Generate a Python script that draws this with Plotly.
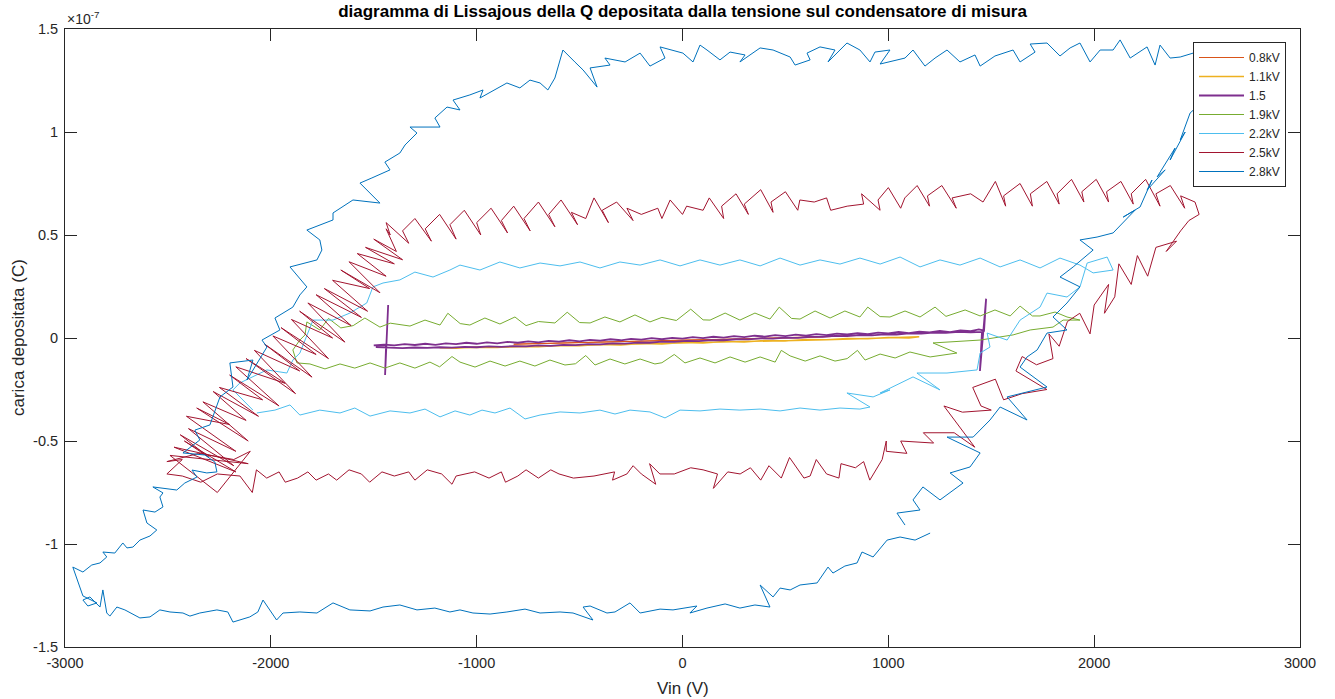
import plotly.graph_objects as go

# Lissajous loops: (Vin [V], deposited charge [1e-7 C]) for each applied voltage
Q_UNIT = 1e-7

loop_08kv = [(-820, -0.030), (-600, -0.024), (-400, -0.022), (-200, -0.015), (0, -0.010),
             (200, -0.006), (400, 0.000), (600, 0.004), (800, 0.010), (600, 0.002),
             (300, -0.004), (0, -0.012), (-400, -0.020), (-820, -0.030)]

loop_11kv = [(-1180, -0.047), (-1100, -0.050), (-1000, -0.044), (-900, -0.046), (-800, -0.040),
             (-700, -0.042), (-600, -0.036), (-500, -0.038), (-400, -0.032), (-300, -0.034),
             (-200, -0.027), (-100, -0.029), (0, -0.022), (100, -0.024), (200, -0.017),
             (300, -0.019), (400, -0.012), (500, -0.014), (600, -0.007), (700, -0.009),
             (800, -0.002), (900, -0.004), (1000, 0.003), (1100, 0.000), (1150, 0.006),
             (1050, 0.002), (900, -0.003), (700, -0.008), (500, -0.013), (300, -0.018),
             (100, -0.023), (-100, -0.028), (-300, -0.033), (-500, -0.037), (-700, -0.041),
             (-900, -0.045), (-1180, -0.049)]

loop_15kv = [(-1430, 0.16), (-1445, -0.18), (-1440, -0.034), (-1500, -0.036), (-1450, -0.032),
             (-1400, -0.036), (-1350, -0.030), (-1300, -0.034), (-1250, -0.028), (-1200, -0.033),
             (-1150, -0.026), (-1100, -0.030), (-1050, -0.023), (-1000, -0.028), (-950, -0.021),
             (-900, -0.026), (-850, -0.019), (-800, -0.023), (-750, -0.016), (-700, -0.021),
             (-650, -0.014), (-600, -0.018), (-550, -0.011), (-500, -0.016), (-450, -0.009),
             (-400, -0.013), (-350, -0.006), (-300, -0.011), (-250, -0.004), (-200, -0.008),
             (-150, -0.001), (-100, -0.006), (-50, 0.001), (0, -0.003), (50, 0.004),
             (100, -0.001), (150, 0.006), (200, 0.002), (250, 0.009), (300, 0.004),
             (350, 0.011), (400, 0.007), (450, 0.014), (500, 0.009), (550, 0.016),
             (600, 0.012), (650, 0.019), (700, 0.014), (750, 0.021), (800, 0.017),
             (850, 0.024), (900, 0.019), (950, 0.026), (1000, 0.022), (1050, 0.029),
             (1100, 0.024), (1150, 0.031), (1200, 0.027), (1250, 0.034), (1300, 0.029),
             (1350, 0.037), (1400, 0.033), (1440, 0.042), (1465, 0.036), (1475, 0.19),
             (1445, -0.16), (1455, 0.030), (1400, 0.028), (1340, 0.030), (1280, 0.025),
             (1220, 0.026), (1160, 0.021), (1100, 0.022), (1040, 0.017), (980, 0.018),
             (920, 0.013), (860, 0.014), (800, 0.009), (740, 0.010), (680, 0.005),
             (620, 0.006), (560, 0.001), (500, 0.002), (440, -0.003), (380, -0.002),
             (320, -0.007), (260, -0.006), (200, -0.011), (140, -0.010), (80, -0.015),
             (20, -0.014), (-40, -0.019), (-100, -0.018), (-160, -0.023), (-220, -0.022),
             (-280, -0.027), (-340, -0.026), (-400, -0.031), (-460, -0.030), (-520, -0.035),
             (-580, -0.033), (-640, -0.038), (-700, -0.036), (-760, -0.041), (-820, -0.039),
             (-880, -0.043), (-940, -0.041), (-1000, -0.045), (-1060, -0.043), (-1120, -0.047),
             (-1180, -0.045), (-1240, -0.048), (-1300, -0.046), (-1360, -0.049), (-1420, -0.046),
             (-1490, -0.044)]

loop_19kv = [(-1834, 0.015), (-1825, 0.078), (-1762, 0.039), (-1720, 0.095), (-1660, 0.049),
             (-1600, 0.060), (-1543, 0.097), (-1470, 0.053), (-1420, 0.072), (-1324, 0.058),
             (-1251, 0.087), (-1178, 0.063), (-1140, 0.120), (-1080, 0.070), (-1033, 0.063),
             (-960, 0.097), (-887, 0.068), (-814, 0.102), (-760, 0.060), (-700, 0.080),
             (-620, 0.073), (-560, 0.125), (-500, 0.075), (-449, 0.073), (-377, 0.102),
             (-304, 0.078), (-231, 0.112), (-158, 0.078), (-100, 0.100), (-30, 0.085),
             (40, 0.140), (100, 0.088), (134, 0.087), (207, 0.121), (279, 0.087),
             (352, 0.121), (425, 0.092), (470, 0.150), (530, 0.095), (571, 0.092),
             (644, 0.131), (717, 0.097), (789, 0.131), (862, 0.102), (900, 0.150),
             (960, 0.104), (1008, 0.102), (1081, 0.131), (1154, 0.102), (1227, 0.150),
             (1280, 0.105), (1373, 0.136), (1446, 0.107), (1518, 0.136), (1592, 0.107),
             (1640, 0.155), (1700, 0.107), (1737, 0.107), (1810, 0.126), (1868, 0.102),
             (1931, 0.087), (1849, 0.087), (1800, 0.053), (1689, 0.039), (1606, 0.015),
             (1446, -0.010), (1217, -0.024), (1333, -0.073), (1203, -0.092), (1105, -0.068),
             (1033, -0.097), (960, -0.078), (887, -0.107), (850, -0.060), (800, -0.100),
             (741, -0.112), (668, -0.087), (596, -0.112), (523, -0.087), (480, -0.060),
             (450, -0.117), (377, -0.092), (304, -0.117), (231, -0.092), (158, -0.121),
             (85, -0.097), (12, -0.121), (-40, -0.080), (-100, -0.120), (-134, -0.126),
             (-206, -0.102), (-280, -0.126), (-352, -0.102), (-425, -0.131), (-470, -0.085),
             (-520, -0.125), (-571, -0.131), (-644, -0.107), (-717, -0.136), (-790, -0.112),
             (-862, -0.136), (-935, -0.112), (-1008, -0.141), (-1081, -0.117), (-1120, -0.090),
             (-1180, -0.140), (-1227, -0.117), (-1300, -0.146), (-1373, -0.121), (-1446, -0.146),
             (-1518, -0.121), (-1592, -0.146), (-1664, -0.126), (-1737, -0.150), (-1810, -0.126),
             (-1873, -0.121), (-1893, -0.058), (-1859, -0.010), (-1834, 0.015)]

loop_22kv = [(-2068, -0.364), (-1980, -0.350), (-1907, -0.325), (-1859, -0.374), (-1762, -0.350),
             (-1664, -0.364), (-1592, -0.340), (-1518, -0.379), (-1421, -0.354), (-1324, -0.364),
             (-1251, -0.345), (-1178, -0.383), (-1105, -0.354), (-1033, -0.374), (-974, -0.350),
             (-911, -0.364), (-838, -0.340), (-765, -0.393), (-692, -0.374), (-595, -0.359),
             (-498, -0.364), (-401, -0.350), (-328, -0.369), (-255, -0.350), (-158, -0.359),
             (-85, -0.388), (-12, -0.350), (85, -0.354), (182, -0.345), (279, -0.350),
             (377, -0.345), (474, -0.354), (571, -0.340), (668, -0.350), (765, -0.340),
             (862, -0.345), (911, -0.335), (799, -0.267), (926, -0.286), (1008, -0.252),
             (960, -0.267), (1120, -0.189), (1251, -0.252), (1139, -0.170), (1285, -0.170),
             (1431, -0.155), (1446, -0.073), (1494, -0.044), (1480, 0.024), (1577, -0.010),
             (1640, 0.087), (1737, 0.150), (1771, 0.218), (1868, 0.199), (1931, 0.248),
             (1966, 0.364), (2063, 0.393), (2092, 0.330), (1995, 0.316), (1931, 0.354),
             (1834, 0.388), (1737, 0.340), (1640, 0.379), (1543, 0.345), (1446, 0.388),
             (1348, 0.354), (1251, 0.379), (1154, 0.345), (1057, 0.393), (960, 0.359),
             (862, 0.388), (765, 0.359), (668, 0.379), (571, 0.354), (474, 0.388),
             (377, 0.350), (279, 0.379), (182, 0.354), (85, 0.379), (-12, 0.350),
             (-109, 0.379), (-206, 0.354), (-304, 0.369), (-401, 0.340), (-498, 0.369),
             (-595, 0.350), (-692, 0.364), (-790, 0.340), (-887, 0.369), (-984, 0.330),
             (-1081, 0.354), (-1130, 0.330), (-1212, 0.296), (-1300, 0.320), (-1373, 0.282),
             (-1455, 0.267), (-1504, 0.248), (-1534, 0.170), (-1616, 0.121), (-1698, 0.087),
             (-1795, 0.087), (-1859, -0.073), (-1893, -0.107), (-1922, -0.170), (-2019, -0.155),
             (-2150, -0.218), (-2184, -0.252), (-2087, -0.350)]

loop_25kv = [(-1420, 0.50), (-1440, 0.56), (-1330, 0.46), (-1360, 0.52), (-1300, 0.58),
             (-1220, 0.47), (-1250, 0.53), (-1180, 0.60), (-1100, 0.48), (-1130, 0.55),
             (-1060, 0.62), (-980, 0.50), (-1000, 0.56), (-930, 0.63), (-850, 0.51),
             (-880, 0.57), (-820, 0.64), (-740, 0.52), (-770, 0.58), (-700, 0.66),
             (-620, 0.54), (-650, 0.60), (-590, 0.67), (-510, 0.55), (-540, 0.61),
             (-470, 0.58), (-430, 0.68), (-360, 0.56), (-390, 0.62), (-320, 0.66),
             (-240, 0.57), (-270, 0.63), (-200, 0.60), (-120, 0.63), (-100, 0.58),
             (-60, 0.67), (0, 0.60), (20, 0.64), (100, 0.62), (130, 0.68),
             (200, 0.58), (190, 0.64), (260, 0.70), (320, 0.60), (300, 0.65),
             (380, 0.72), (440, 0.61), (430, 0.66), (500, 0.71), (560, 0.62),
             (570, 0.67), (640, 0.66), (700, 0.68), (720, 0.62), (800, 0.64),
             (880, 0.65), (870, 0.70), (960, 0.62), (950, 0.67), (1000, 0.73),
             (1060, 0.63), (1080, 0.68), (1140, 0.74), (1200, 0.64), (1190, 0.69),
             (1260, 0.74), (1330, 0.63), (1310, 0.68), (1400, 0.70), (1460, 0.66),
             (1520, 0.76), (1570, 0.64), (1560, 0.69), (1640, 0.75), (1700, 0.64),
             (1690, 0.70), (1770, 0.76), (1830, 0.65), (1820, 0.70), (1890, 0.77),
             (1950, 0.66), (1940, 0.71), (2010, 0.77), (2070, 0.66), (2060, 0.71),
             (2130, 0.76), (2190, 0.65), (2180, 0.70), (2250, 0.77), (2320, 0.64),
             (2300, 0.70), (2370, 0.74), (2440, 0.63), (2420, 0.69), (2490, 0.66),
             (2510, 0.60), (2460, 0.57), (2420, 0.52), (2350, 0.42), (2400, 0.47),
             (2300, 0.44), (2260, 0.30), (2210, 0.40), (2180, 0.26), (2120, 0.36),
             (2100, 0.20), (2050, 0.12), (2070, 0.26), (2000, 0.16), (1980, 0.02),
             (1930, 0.12), (1870, 0.08), (1830, -0.04), (1780, 0.02), (1800, -0.10),
             (1720, -0.13), (1650, -0.09), (1620, -0.16), (1770, -0.25), (1650, -0.27),
             (1560, -0.30), (1520, -0.20), (1410, -0.24), (1450, -0.33), (1500, -0.35),
             (1360, -0.36), (1270, -0.33), (1420, -0.53), (1320, -0.46), (1170, -0.46),
             (1220, -0.51), (1060, -0.50), (1090, -0.56), (990, -0.55), (990, -0.50),
             (970, -0.59), (910, -0.69), (880, -0.60), (840, -0.63), (770, -0.61),
             (760, -0.68), (700, -0.66), (650, -0.59), (620, -0.67), (590, -0.68),
             (520, -0.58), (480, -0.68), (420, -0.62), (380, -0.69), (330, -0.63),
             (280, -0.66), (220, -0.65), (150, -0.73), (170, -0.66), (100, -0.64),
             (40, -0.63), (-40, -0.66), (-110, -0.66), (-160, -0.61), (-130, -0.71),
             (-200, -0.66), (-240, -0.62), (-270, -0.66), (-340, -0.69), (-330, -0.65),
             (-430, -0.67), (-530, -0.68), (-600, -0.66), (-640, -0.64), (-700, -0.68),
             (-760, -0.64), (-800, -0.67), (-860, -0.70), (-880, -0.65), (-940, -0.68),
             (-1010, -0.65), (-1100, -0.67), (-1120, -0.71), (-1170, -0.66), (-1240, -0.64),
             (-1300, -0.69), (-1330, -0.65), (-1400, -0.67), (-1460, -0.65), (-1520, -0.70),
             (-1560, -0.66), (-1620, -0.64), (-1680, -0.69), (-1720, -0.66), (-1780, -0.69),
             (-1820, -0.65), (-1870, -0.68), (-1930, -0.70), (-1960, -0.65), (-2020, -0.68),
             (-2070, -0.64), (-2090, -0.75), (-2150, -0.67), (-2260, -0.66), (-2340, -0.70),
             (-2430, -0.67), (-2505, -0.66), (-2430, -0.59), (-2505, -0.60), (-2350, -0.56),
             (-2180, -0.59), (-2100, -0.55), (-2260, -0.75), (-2490, -0.57), (-2110, -0.61),
             (-2470, -0.53), (-2170, -0.65), (-2420, -0.50), (-2300, -0.58), (-2440, -0.47),
             (-2180, -0.62), (-2400, -0.44), (-2170, -0.55), (-2410, -0.38), (-2200, -0.42),
             (-2360, -0.34), (-2110, -0.50), (-2330, -0.31), (-2120, -0.40), (-2280, -0.26),
             (-2060, -0.38), (-2250, -0.24), (-2040, -0.30), (-2200, -0.18), (-1960, -0.33),
             (-2170, -0.14), (-1930, -0.22), (-2120, -0.10), (-1880, -0.27), (-2080, -0.06),
             (-1860, -0.16), (-2030, -0.03), (-1800, -0.19), (-1990, 0.01), (-1780, -0.08),
             (-1950, 0.05), (-1720, -0.10), (-1900, 0.09), (-1700, 0.00), (-1860, 0.13),
             (-1640, -0.02), (-1820, 0.17), (-1610, 0.06), (-1780, 0.21), (-1560, 0.10),
             (-1740, 0.24), (-1530, 0.13), (-1700, 0.28), (-1520, 0.24), (-1660, 0.33),
             (-1470, 0.22), (-1620, 0.37), (-1440, 0.30), (-1580, 0.41), (-1400, 0.36),
             (-1540, 0.44), (-1360, 0.38), (-1500, 0.48), (-1390, 0.42), (-1440, 0.53),
             (-1420, 0.50)]

loop_28kv = [(1203, -0.947), (1130, -0.981), (1057, -0.966), (994, -0.981), (926, -1.063),
             (872, -1.039), (848, -1.092), (789, -1.107), (731, -1.141), (707, -1.112),
             (654, -1.189), (571, -1.199), (523, -1.223), (474, -1.214), (440, -1.257),
             (377, -1.199), (425, -1.306), (352, -1.296), (279, -1.311), (207, -1.291),
             (119, -1.311), (36, -1.335), (70, -1.301), (-46, -1.320), (-109, -1.316),
             (-206, -1.335), (-255, -1.286), (-289, -1.306), (-328, -1.330), (-367, -1.335),
             (-449, -1.301), (-483, -1.306), (-435, -1.369), (-532, -1.335), (-595, -1.330),
             (-692, -1.335), (-765, -1.316), (-853, -1.330), (-935, -1.340), (-1018, -1.335),
             (-1081, -1.320), (-1130, -1.330), (-1203, -1.311), (-1290, -1.320), (-1373, -1.296),
             (-1455, -1.306), (-1518, -1.325), (-1616, -1.320), (-1698, -1.286), (-1776, -1.335),
             (-1859, -1.330), (-1941, -1.335), (-1972, -1.369), (-2038, -1.272), (-2063, -1.330),
             (-2102, -1.354), (-2184, -1.379), (-2209, -1.330), (-2262, -1.320), (-2345, -1.335),
             (-2393, -1.350), (-2427, -1.335), (-2490, -1.330), (-2539, -1.320), (-2587, -1.354),
             (-2636, -1.359), (-2709, -1.320), (-2748, -1.306), (-2782, -1.350), (-2797, -1.335),
             (-2816, -1.223), (-2830, -1.306), (-2879, -1.257), (-2913, -1.272), (-2889, -1.301),
             (-2845, -1.286), (-2913, -1.252), (-2962, -1.112), (-2913, -1.136), (-2870, -1.102),
             (-2830, -1.092), (-2797, -1.063), (-2816, -1.039), (-2758, -1.044), (-2719, -0.995),
             (-2699, -1.019), (-2670, -1.015), (-2636, -0.981), (-2587, -0.961), (-2554, -0.932),
             (-2602, -0.898), (-2621, -0.835), (-2563, -0.845), (-2524, -0.820), (-2539, -0.772),
             (-2524, -0.752), (-2573, -0.723), (-2457, -0.738), (-2418, -0.704), (-2359, -0.675),
             (-2383, -0.641), (-2311, -0.655), (-2262, -0.650), (-2272, -0.602), (-2320, -0.568),
             (-2427, -0.558), (-2345, -0.495), (-2369, -0.447), (-2296, -0.422), (-2247, -0.286),
             (-2184, -0.238), (-2199, -0.121), (-2087, -0.107), (-2116, -0.204), (-2019, -0.044),
             (-2043, -0.010), (-1956, 0.039), (-1980, 0.097), (-1893, 0.150), (-1859, 0.209),
             (-1825, 0.248), (-1907, 0.345), (-1776, 0.379), (-1752, 0.427), (-1762, 0.476),
             (-1825, 0.524), (-1698, 0.573), (-1698, 0.607), (-1601, 0.670), (-1470, 0.655),
             (-1567, 0.752), (-1509, 0.777), (-1421, 0.816), (-1446, 0.854), (-1373, 0.898),
             (-1348, 0.937), (-1290, 0.995), (-1324, 1.024), (-1178, 1.024), (-1203, 1.068),
             (-1144, 1.121), (-1081, 1.107), (-1115, 1.155), (-1033, 1.180), (-969, 1.204),
             (-984, 1.165), (-887, 1.218), (-853, 1.238), (-790, 1.214), (-741, 1.252),
             (-692, 1.238), (-654, 1.204), (-620, 1.262), (-581, 1.398), (-523, 1.340),
             (-483, 1.301), (-415, 1.218), (-449, 1.311), (-352, 1.325), (-377, 1.359),
             (-279, 1.340), (-206, 1.383), (-158, 1.320), (-85, 1.359), (-109, 1.413),
             (2, 1.383), (51, 1.340), (85, 1.422), (119, 1.398), (182, 1.350),
             (231, 1.388), (304, 1.374), (279, 1.340), (377, 1.408), (440, 1.398),
             (523, 1.364), (547, 1.325), (620, 1.350), (605, 1.383), (668, 1.413),
             (741, 1.398), (707, 1.340), (799, 1.432), (862, 1.398), (911, 1.340),
             (935, 1.388), (1008, 1.398), (960, 1.330), (1081, 1.359), (1120, 1.398),
             (1178, 1.320), (1227, 1.359), (1285, 1.398), (1348, 1.340), (1421, 1.374),
             (1446, 1.320), (1518, 1.369), (1606, 1.398), (1640, 1.340), (1713, 1.388),
             (1689, 1.427), (1771, 1.432), (1834, 1.369), (1883, 1.408), (1931, 1.432),
             (1980, 1.340), (2029, 1.398), (2092, 1.398), (2126, 1.447), (2175, 1.359),
             (2257, 1.413), (2296, 1.325), (2320, 1.422), (2369, 1.359), (2418, 1.364),
             (2481, 1.383), (2587, 1.374), (2636, 1.277), (2563, 1.180), (2466, 1.092),
             (2418, 0.961), (2442, 1.000), (2369, 0.864), (2393, 0.922), (2306, 0.782),
             (2345, 0.816), (2257, 0.718), (2281, 0.767), (2223, 0.636), (2141, 0.587),
             (2199, 0.621), (2092, 0.510), (2014, 0.490), (1931, 0.476), (1995, 0.427),
             (1898, 0.345), (1834, 0.296), (1931, 0.248), (1868, 0.170), (1800, 0.102),
             (1868, 0.039), (1771, 0.024), (1723, -0.058), (1674, -0.092), (1640, -0.141),
             (1771, -0.238), (1577, -0.286), (1674, -0.398), (1543, -0.335), (1494, -0.398),
             (1412, -0.481), (1285, -0.481), (1446, -0.558), (1397, -0.626), (1300, -0.655),
             (1363, -0.704), (1251, -0.786), (1168, -0.723), (1120, -0.786), (1154, -0.835),
             (1042, -0.850), (1081, -0.908)]

series_names = ["0.8kV", "1.1kV", "1.5", "1.9kV", "2.2kV", "2.5kV", "2.8kV"]
series_loops = [loop_08kv, loop_11kv, loop_15kv, loop_19kv, loop_22kv, loop_25kv, loop_28kv]
series_colors = ["#D95319", "#EDB120", "#7E2F8E", "#77AC30", "#4DBEEE", "#A2142F", "#0072BD"]
series_widths = [1, 1.5, 1.8, 1, 1, 1, 1]

x_ticks = [-3000, -2000, -1000, 0, 1000, 2000, 3000]
x_tick_labels = ["-3000", "-2000", "-1000", "0", "1000", "2000", "3000"]
y_ticks = [-1.5, -1, -0.5, 0, 0.5, 1, 1.5]
y_tick_labels = ["-1.5", "-1", "-0.5", "0", "0.5", "1", "1.5"]

AXIS_COLOR = "#262626"
FONT = "Liberation Sans, Arial, Helvetica, sans-serif"

fig = go.Figure()
for name, loop, color, w in zip(series_names, series_loops, series_colors, series_widths):
    fig.add_trace(go.Scatter(
        x=[p[0] for p in loop],
        y=[p[1] * Q_UNIT for p in loop],
        mode="lines",
        name=name,
        line=dict(color=color, width=w),
    ))

axis_common = dict(
    showline=True, linecolor=AXIS_COLOR, linewidth=1, mirror="ticks",
    ticks="inside", ticklen=12, tickwidth=1, tickcolor=AXIS_COLOR,
    showgrid=False, zeroline=False, ticklabelstandoff=3,
    tickfont=dict(family=FONT, size=14.5, color=AXIS_COLOR),
)

fig.update_layout(
    width=1335, height=699,
    margin=dict(l=65, r=35, t=29, b=52),
    paper_bgcolor="white", plot_bgcolor="white",
    font=dict(family=FONT, color=AXIS_COLOR),
    title=dict(
        text="<b>diagramma di Lissajous della Q depositata dalla tensione sul condensatore di misura</b>",
        x=(682.5 / 1335), xanchor="center", y=1 - 11 / 699, yanchor="middle",
        font=dict(family=FONT, size=17, color="black"),
    ),
    xaxis=dict(range=[-3000, 3000], tickvals=x_ticks, ticktext=x_tick_labels, **axis_common),
    yaxis=dict(range=[-1.5 * Q_UNIT, 1.5 * Q_UNIT],
               tickvals=[v * Q_UNIT for v in y_ticks], ticktext=y_tick_labels,
               **axis_common),
    legend=dict(
        x=(1193 - 65) / 1235, y=(647 - 42) / 618, xanchor="left", yanchor="top",
        bgcolor="white", bordercolor=AXIS_COLOR, borderwidth=1,
        font=dict(family=FONT, size=12, color=AXIS_COLOR),
        tracegroupgap=0, itemwidth=45,
    ),
    showlegend=True,
    annotations=[
        dict(text="×10<sup>-7</sup>", xref="paper", yref="paper", x=0, y=1,
             xanchor="left", yanchor="bottom", showarrow=False,
             font=dict(family=FONT, size=14, color=AXIS_COLOR)),
        dict(text="carica depositata (C)", xref="paper", yref="paper", x=0, y=0.5,
             xanchor="center", yanchor="middle", xshift=-47, textangle=-90, showarrow=False,
             font=dict(family=FONT, size=17, color=AXIS_COLOR)),
        dict(text="Vin (V)", xref="paper", yref="paper", x=0.5, y=0,
             xanchor="center", yanchor="middle", yshift=-41, showarrow=False,
             font=dict(family=FONT, size=17, color=AXIS_COLOR)),
    ],
)

fig.write_html("out.html")
